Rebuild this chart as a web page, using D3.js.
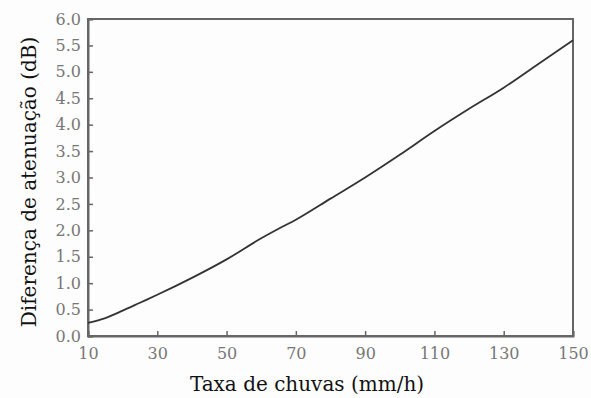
<!DOCTYPE html>
<html><head><meta charset="utf-8">
<script src="https://cdn.jsdelivr.net/npm/d3@7"></script>
<style>body{margin:0;background:#fff;} svg{display:block;}</style>
</head><body>
<svg id="c" width="591" height="398"></svg>
<script>
const rainRate = [10, 15, 20, 25, 30, 40, 50, 60, 65, 70, 80, 90, 100, 110, 120, 130, 140, 150];
const attenDiff = [0.25, 0.34, 0.48, 0.63, 0.78, 1.1, 1.45, 1.85, 2.03, 2.2, 2.6, 3.0, 3.43, 3.88, 4.3, 4.7, 5.15, 5.6];
const xTicks = [10, 30, 50, 70, 90, 110, 130, 150];
const yTicks = [0, 0.5, 1, 1.5, 2, 2.5, 3, 3.5, 4, 4.5, 5, 5.5, 6];
const xTitle = "Taxa de chuvas (mm/h)";
const yTitle = "Diferença de atenuação (dB)";

const svg = d3.select("#c");
const L = 88, R = 573, T = 19, B = 336;
const x = d3.scaleLinear().domain([10, 150]).range([L, R]);
const y = d3.scaleLinear().domain([0, 6]).range([B, T]);
const axisColor = "#666", labColor = "#777", font = "DejaVu Serif";

svg.append("rect").attr("width", 591).attr("height", 398).attr("fill", "#fdfdfd");

svg.append("rect").attr("x", L).attr("y", T).attr("width", R - L).attr("height", B - T)
  .attr("fill", "none").attr("stroke", axisColor).attr("stroke-width", 2);

const xa = svg.append("g").attr("transform", `translate(0,${B})`)
  .call(d3.axisBottom(x).tickValues(xTicks).tickSize(-5).tickPadding(12).tickFormat(d3.format("d")));
const ya = svg.append("g").attr("transform", `translate(${L},0)`)
  .call(d3.axisLeft(y).tickValues(yTicks).tickSize(-5).tickPadding(7).tickFormat(d3.format(".1f")));
[xa, ya].forEach(a => {
  a.select(".domain").attr("stroke", axisColor).attr("stroke-width", 2);
  a.selectAll(".tick line").attr("stroke", axisColor).attr("stroke-width", 1.5);
  a.selectAll(".tick text").attr("fill", labColor).attr("font-family", font).attr("font-size", 16);
});

const line = d3.line().x(d => x(d[0])).y(d => y(d[1])).curve(d3.curveMonotoneX);
svg.append("path").datum(rainRate.map((r, i) => [r, attenDiff[i]]))
  .attr("d", line).attr("fill", "none").attr("stroke", "#333").attr("stroke-width", 1.8);

svg.append("text").attr("x", 307).attr("y", 391).attr("text-anchor", "middle")
  .attr("font-family", font).attr("font-size", 20).attr("fill", "#111").text(xTitle);
svg.append("text").attr("transform", "translate(36,182) rotate(-90)").attr("text-anchor", "middle")
  .attr("font-family", font).attr("font-size", 20).attr("fill", "#111").text(yTitle);
</script>
</body></html>
